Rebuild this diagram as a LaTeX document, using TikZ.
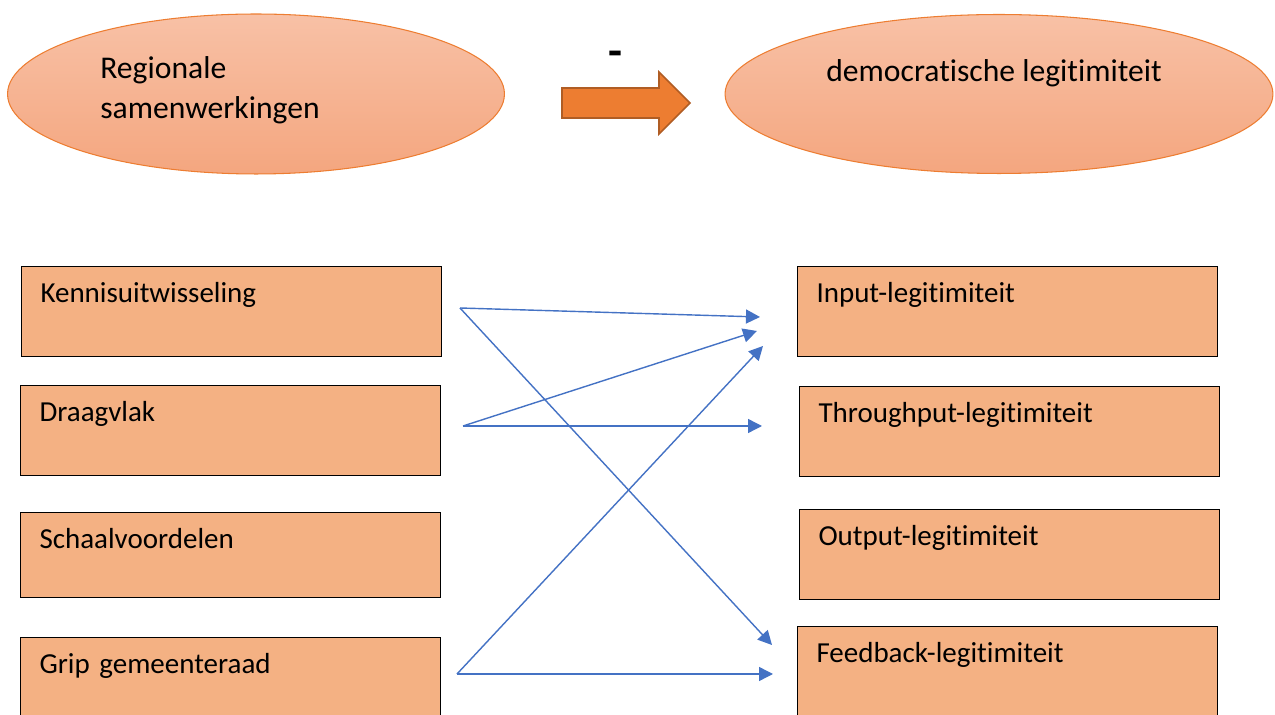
\documentclass[tikz,border=0pt]{standalone}
\usepackage{fontspec}
\setmainfont{Carlito}[Ligatures=NoCommon]
\usepackage{tikz}
\usetikzlibrary{shapes.geometric,arrows.meta,positioning}
\definecolor{boxfill}{HTML}{F4B183}
\definecolor{elltop}{HTML}{F8C1A6}
\definecolor{ellbot}{HTML}{F4A67F}
\definecolor{ellline}{HTML}{ED7D31}
\definecolor{bigarrow}{HTML}{ED7D31}
\definecolor{bigarrowline}{HTML}{B05D24}
\definecolor{linkblue}{HTML}{4472C4}

\begin{document}
\begin{tikzpicture}[x=0.02cm, y=-0.02cm,
  concept/.style={ellipse, draw=ellline, line width=0.6pt, top color=elltop, bottom color=ellbot, inner sep=0pt},
  factor/.style={rectangle, draw=black, line width=0.6pt, fill=boxfill, anchor=north west,
    inner xsep=0.38cm, inner ysep=0pt, text width=7.64cm, align=left,
    text height=0.72cm, text depth=1.08cm, font=\fontsize{16.5}{20}\selectfont},
  link/.style={linkblue, line width=0.8pt, -{Triangle[length=0.28cm, width=0.28cm]}}]
\useasboundingbox (0,0) rectangle (1275,715);
\clip (0,0) rectangle (1275,715);

% top row
\node[concept, minimum width=9.94cm, minimum height=3.2cm] (regio) at (256,94) {};
\node[concept, minimum width=10.96cm, minimum height=3.18cm] (legit) at (999,94) {};
\node[anchor=north west, inner sep=0pt, align=left, font=\fontsize{18}{22.8}\selectfont] (regiotext) at (100,56) {Regionale\\samenwerkingen};
\node[anchor=base, inner sep=0pt, font=\fontsize{18}{22}\selectfont] (legittext) at (994,82) {democratische legitimiteit};
\node[font=\fontsize{26}{30}\selectfont\bfseries] (minus) at (615,59) {-};
\filldraw[fill=bigarrow, draw=bigarrowline, line width=0.9pt]
  (562,88) -- (659,88) -- (659,72) -- (690,103) -- (659,134) -- (659,118) -- (562,118) -- cycle;

% left column
\node[factor] (kennis) at (21,266) {Kennisuitwisseling};
\node[factor] (draagvlak) at (20,385) {Draagvlak};
\node[factor, text depth=0.98cm] (schaal) at (20,512) {Schaalvoordelen};
\node[factor] (grip) at (20,637) {Grip gemeenteraad};

% right column
\node[factor] (input) at (797,266) {Input-legitimiteit};
\node[factor] (through) at (799,386) {Throughput-legitimiteit};
\node[factor] (output) at (799,509) {Output-legitimiteit};
\node[factor, text depth=1.3cm] (feedback) at (797,626) {Feedback-legitimiteit};

% loose ends of the links
\coordinate (kennis out) at (460,308);
\coordinate (draagvlak out) at (463,426);
\coordinate (grip out) at (457,674);
\coordinate (input in1) at (760,317);
\coordinate (input in2) at (757,331);
\coordinate (input in3) at (763,346);
\coordinate (through in) at (762,426);
\coordinate (feedback in1) at (772,645);
\coordinate (feedback in2) at (773,674);

\draw[link] (kennis out) -- (input in1);
\draw[link] (kennis out) -- (feedback in1);
\draw[link] (draagvlak out) -- (input in2);
\draw[link] (draagvlak out) -- (through in);
\draw[link] (grip out) -- (input in3);
\draw[link] (grip out) -- (feedback in2);
\end{tikzpicture}
\end{document}
